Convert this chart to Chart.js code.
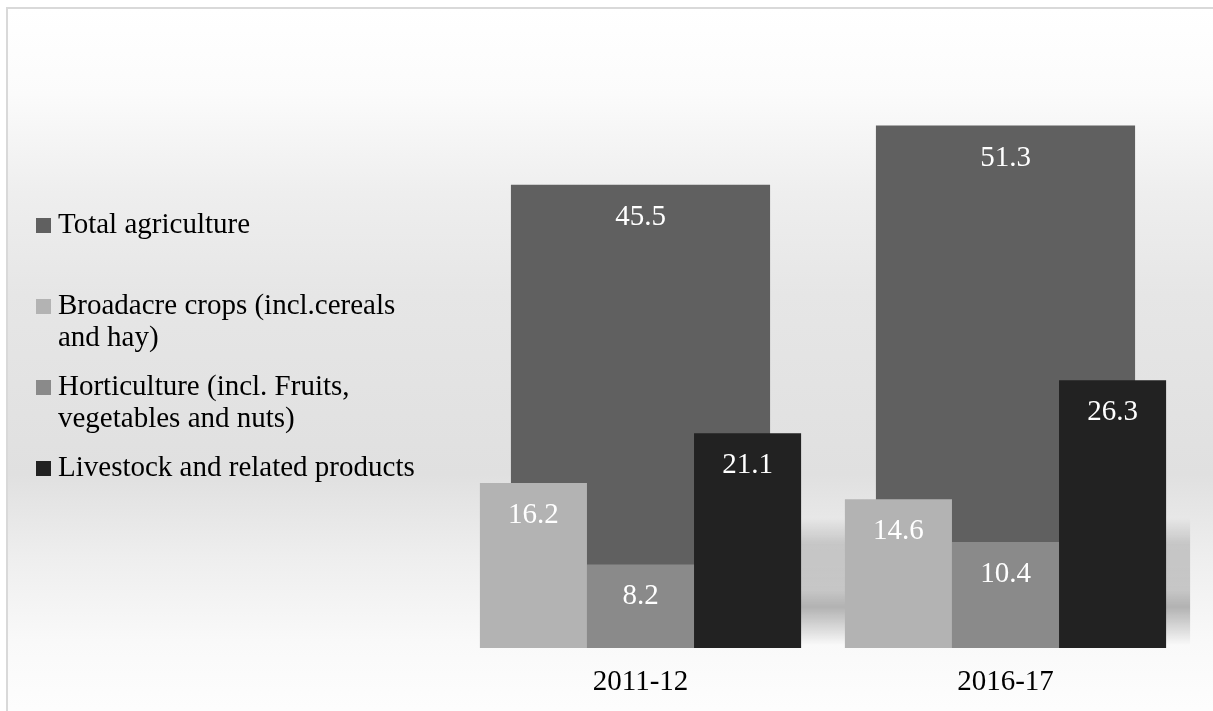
<!DOCTYPE html>
<html>
<head>
<meta charset="utf-8">
<script src="https://cdn.jsdelivr.net/npm/chart.js@4.4.1/dist/chart.umd.min.js"></script>
<style>
  html, body { margin: 0; padding: 0; width: 1213px; height: 711px; overflow: hidden; background: #fff; }
  #frame {
    position: absolute; left: 6px; top: 7px; width: 1240px; height: 740px;
    border-left: 2px solid #d9d9d9; border-top: 2px solid #d9d9d9;
    background: linear-gradient(to bottom, #ffffff 0px, #fbfbfb 85px, #eeeeee 185px, #e6e6e6 285px, #e0e0e0 465px, #eeeeee 548px, #f9f9f9 632px, #fdfdfd 700px);
  }
  #chart { position: absolute; left: 0; top: 0; }
  #legend {
    position: absolute; left: 36px; top: 207px; width: 400px;
    font-family: 'Liberation Serif', 'Times New Roman', serif; font-size: 29px; color: #000;
  }
  .legend-item { position: relative; height: 81px; }
  .legend-item .swatch { position: absolute; left: 0; top: 11px; width: 15px; height: 15px; }
  .legend-item .text { position: absolute; left: 22px; top: 0; width: 365px; line-height: 32px; }
</style>
</head>
<body>
<div id="frame"></div>
<canvas id="chart" width="1213" height="711"></canvas>
<div id="legend"></div>
<script>
const categories = ['2011-12', '2016-17'];
const seriesNames = [
    'Total agriculture',
    'Broadacre crops (incl.cereals and hay)',
    'Horticulture (incl. Fruits, vegetables and nuts)',
    'Livestock and related products'
];
const totalAgriculture = [45.5, 51.3];
const broadacreCrops = [16.2, 14.6];
const horticulture = [8.2, 10.4];
const livestock = [21.1, 26.3];

const seriesColors = ['#606060', '#b3b3b3', '#8a8a8a', '#222222'];
const serif = "'Liberation Serif', 'Times New Roman', serif";

// legend on the left, built from the series
const legend = document.getElementById('legend');
seriesNames.forEach((name, i) => {
    const item = document.createElement('div');
    item.className = 'legend-item';
    item.innerHTML = `<span class="swatch" style="background:${seriesColors[i]}"></span><span class="text">${name}</span>`;
    legend.appendChild(item);
});

// soft shadow band behind the bars (excel perspective shadow)
const shadowPlugin = {
    id: 'barShadow',
    beforeDatasetsDraw(chart) {
        const ctx = chart.ctx;
        const first = chart.getDatasetMeta(1).data[0];
        const lastBars = chart.getDatasetMeta(3).data;
        const last = lastBars[lastBars.length - 1];
        const x0 = first.x - first.width / 2 + 10;
        const x1 = last.x + last.width / 2 + 24;
        const base = chart.scales.y.getPixelForValue(0);
        const g = ctx.createLinearGradient(0, base - 130, 0, base - 3);
        g.addColorStop(0, 'rgba(0,0,0,0)');
        g.addColorStop(0.21, 'rgba(0,0,0,0.16)');
        g.addColorStop(0.57, 'rgba(0,0,0,0.18)');
        g.addColorStop(0.7, 'rgba(0,0,0,0.27)');
        g.addColorStop(1, 'rgba(0,0,0,0)');
        ctx.save();
        ctx.fillStyle = g;
        ctx.fillRect(x0, base - 130, x1 - x0, 127);
        ctx.restore();
    }
};

const valueLabels = {
    id: 'valueLabels',
    afterDatasetsDraw(chart) {
        const ctx = chart.ctx;
        ctx.save();
        ctx.font = `29px ${serif}`;
        ctx.fillStyle = '#ffffff';
        ctx.textAlign = 'center';
        ctx.textBaseline = 'alphabetic';
        chart.data.datasets.forEach((ds, i) => {
            chart.getDatasetMeta(i).data.forEach((bar, j) => {
                ctx.fillText(ds.data[j].toFixed(1), bar.x, bar.y + 40);
            });
        });
        ctx.restore();
    }
};

const front = { order: 1, categoryPercentage: 0.88, barPercentage: 1, borderWidth: 0 };

new Chart(document.getElementById('chart'), {
    type: 'bar',
    data: {
        labels: categories,
        datasets: [
            // wide bar behind the others, centred on the category
            { label: seriesNames[0], data: totalAgriculture, backgroundColor: seriesColors[0], grouped: false, order: 2, categoryPercentage: 0.71, barPercentage: 1, borderWidth: 0 },
            { ...front, label: seriesNames[1], data: broadacreCrops, backgroundColor: seriesColors[1] },
            { ...front, label: seriesNames[2], data: horticulture, backgroundColor: seriesColors[2] },
            { ...front, label: seriesNames[3], data: livestock, backgroundColor: seriesColors[3] }
        ]
    },
    options: {
        responsive: false,
        animation: false,
        layout: { padding: { left: 458, right: 25, top: 37, bottom: 0 } },
        plugins: { legend: { display: false }, tooltip: { enabled: false } },
        scales: {
            x: {
                offset: true,
                grid: { display: false, drawTicks: false },
                border: { display: false },
                ticks: { color: '#000', font: { family: serif, size: 29 }, padding: 17 },
                afterFit(scale) { scale.height = 63; }
            },
            y: { display: false, min: 0, max: 60 }
        }
    },
    plugins: [shadowPlugin, valueLabels]
});
</script>
</body>
</html>
